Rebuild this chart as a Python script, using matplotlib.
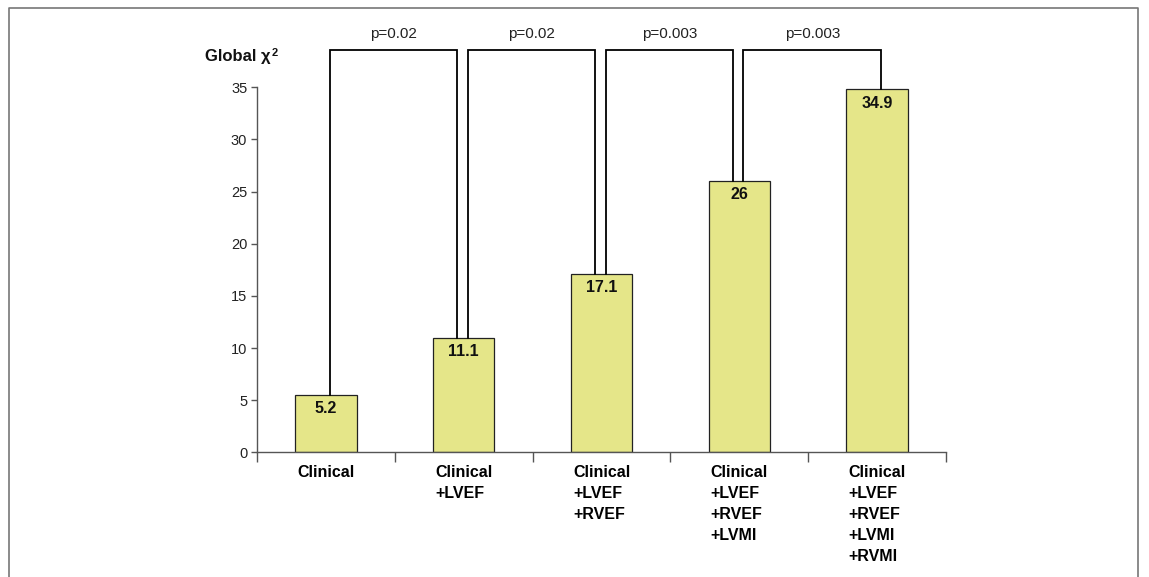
#!/usr/bin/env python3
"""Global chi-square by incremental model, with p-value brackets."""

import matplotlib
matplotlib.use("Agg")
import matplotlib.pyplot as plt
from matplotlib.lines import Line2D

# data
categories = [
    "Clinical",
    "Clinical\n+LVEF",
    "Clinical\n+LVEF\n+RVEF",
    "Clinical\n+LVEF\n+RVEF\n+LVMI",
    "Clinical\n+LVEF\n+RVEF\n+LVMI\n+RVMI",
]
bar_heights = [5.5, 11.0, 17.1, 26.0, 34.8]
bar_labels = ["5.2", "11.1", "17.1", "26", "34.9"]
p_values = ["p=0.02", "p=0.02", "p=0.003", "p=0.003"]
yticks = [0, 5, 10, 15, 20, 25, 30, 35]

plt.rcParams["font.family"] = ["Liberation Sans", "DejaVu Sans"]

fig = plt.figure(figsize=(11.49, 5.77), dpi=100)
ax = fig.add_axes([257 / 1149, 1 - 452.3 / 577, 689 / 1149, 365 / 577])

x = list(range(len(categories)))
ax.bar(x, bar_heights, width=0.445, color="#E5E689", edgecolor="#222222",
       linewidth=0.9, zorder=2)
for xi, h, lab in zip(x, bar_heights, bar_labels):
    ax.annotate(lab, (xi, h), xytext=(0, -4.5), textcoords="offset points",
                ha="center", va="top", fontsize=11.5, fontweight="bold",
                color="#111111")

# brackets between consecutive models
top = 38.6
for i, p in enumerate(p_values):
    x0 = i + 0.03
    x1 = i + 1 - 0.045 if i < len(p_values) - 1 else i + 1 + 0.03
    ax.plot([x0, x0, x1, x1], [bar_heights[i], top, top, bar_heights[i + 1]],
            color="black", lw=1.3, clip_on=False, zorder=3,
            solid_joinstyle="miter")
    ax.text((x0 + x1) / 2, 40.1, p, ha="center", va="center", fontsize=11,
            color="#222222")

ax.set_xlim(-0.5, len(categories) - 0.5)
ax.set_ylim(0, 35)
ax.set_yticks(yticks)
ax.set_xticks(x)
ax.set_xticklabels(categories, fontsize=11.5, fontweight="bold",
                   multialignment="left", linespacing=1.5)
ax.set_xticks([i - 0.5 for i in range(len(categories) + 1)], minor=True)
ax.tick_params(axis="x", which="major", length=0, pad=9)
ax.tick_params(axis="x", which="minor", length=7, width=1, color="#555555")
ax.tick_params(axis="y", length=4, width=1, color="#555555", labelsize=10.5,
               labelcolor="#222222", pad=3)
for s in ("top", "right"):
    ax.spines[s].set_visible(False)
for s in ("left", "bottom"):
    ax.spines[s].set_color("#555555")
    ax.spines[s].set_linewidth(1)

fig.text(205 / 1149, 1 - 57 / 577, "Global χ", ha="left", va="center",
         fontsize=12, fontweight="bold", color="#111111")
fig.text(272 / 1149, 1 - 53 / 577, "2", ha="left", va="center",
         fontsize=8, fontweight="bold", color="#111111")

# outer frame (top, left, right)
fx0, fx1, fy = 8.5 / 1149, 1138 / 1149, 1 - 7.5 / 577
fig.add_artist(Line2D([fx0, fx0, fx1, fx1], [0, fy, fy, 0],
                      transform=fig.transFigure, color="#777777", lw=1.2))

fig.savefig("out.png", dpi=100)
plt.close(fig)
